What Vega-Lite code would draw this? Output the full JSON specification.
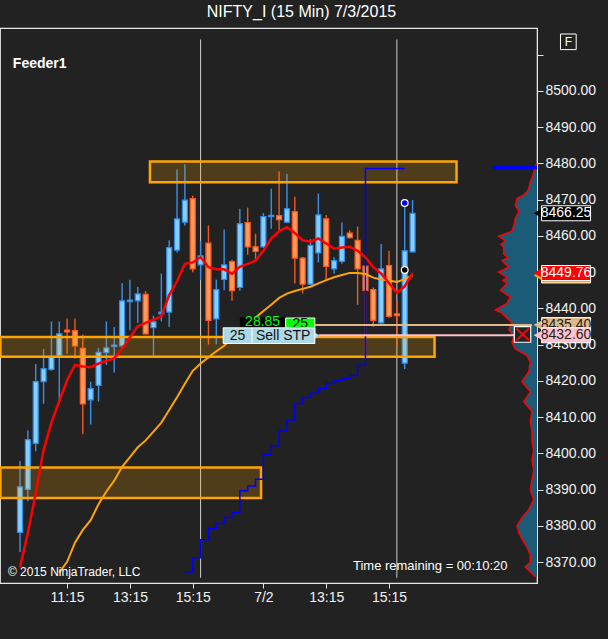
{
"$schema": "https://vega.github.io/schema/vega-lite/v6.json",
"width": 537, "height": 555,
"autosize": {"type": "none"},
"padding": {"left": 0, "top": 28, "right": 71, "bottom": 56},
"background": "#222222",
"config": {
  "font": "Liberation Sans",
  "view": {"stroke": "#e6e6e6", "strokeWidth": 1.2, "fill": "#222222"},
  "axis": {"grid": false, "title": null, "domainColor": "#e6e6e6", "tickColor": "#e6e6e6", "labelColor": "#f2f2f2", "labelFontSize": 14, "labelFont": "Liberation Sans", "labelOverlap": false, "labelFlush": false, "labelBound": false},
  "axisY": {"labelOverlap": false, "tickSize": 6, "labelPadding": 2, "tickCount": 40}
},
"title": {"text": "NIFTY_I (15 Min)  7/3/2015", "fontSize": 16, "fontWeight": "normal", "color": "#ffffff", "font": "Liberation Sans", "anchor": "middle", "frame": "group", "dx": 33, "offset": 8},
"datasets": {
  "bars": [
    {"i":0,"open":8378.2,"high":8397.9,"low":8372.8,"close":8390.8},
    {"i":1,"open":8390.1,"high":8406.4,"low":8386.8,"close":8403.8},
    {"i":2,"open":8402.8,"high":8424.7,"low":8400.6,"close":8419.8},
    {"i":3,"open":8419.8,"high":8428.8,"low":8413.7,"close":8423.4},
    {"i":4,"open":8423.2,"high":8436.4,"low":8422.8,"close":8426.5},
    {"i":5,"open":8427.0,"high":8436.4,"low":8414.3,"close":8433.0},
    {"i":6,"open":8434.0,"high":8437.2,"low":8427.4,"close":8433.5},
    {"i":7,"open":8433.9,"high":8437.2,"low":8426.1,"close":8429.7},
    {"i":8,"open":8429.0,"high":8432.8,"low":8405.3,"close":8413.7},
    {"i":9,"open":8414.8,"high":8419.8,"low":8408.0,"close":8417.9},
    {"i":10,"open":8418.8,"high":8429.1,"low":8414.3,"close":8427.9},
    {"i":11,"open":8427.8,"high":8436.4,"low":8424.4,"close":8429.1},
    {"i":12,"open":8429.5,"high":8434.9,"low":8422.3,"close":8429.9},
    {"i":13,"open":8429.7,"high":8447.0,"low":8429.0,"close":8442.1},
    {"i":14,"open":8441.9,"high":8447.9,"low":8434.0,"close":8442.3},
    {"i":15,"open":8442.1,"high":8445.9,"low":8436.0,"close":8444.0},
    {"i":16,"open":8443.9,"high":8444.8,"low":8432.8,"close":8433.0},
    {"i":17,"open":8434.7,"high":8438.0,"low":8426.9,"close":8436.3},
    {"i":18,"open":8438.5,"high":8449.6,"low":8436.4,"close":8439.0},
    {"i":19,"open":8439.0,"high":8458.8,"low":8434.9,"close":8456.8},
    {"i":20,"open":8456.1,"high":8478.3,"low":8455.4,"close":8464.7},
    {"i":21,"open":8463.8,"high":8479.8,"low":8462.8,"close":8469.9},
    {"i":22,"open":8470.3,"high":8471.1,"low":8450.0,"close":8450.9},
    {"i":23,"open":8452.0,"high":8458.6,"low":8447.8,"close":8454.5},
    {"i":24,"open":8458.0,"high":8462.9,"low":8430.0,"close":8436.7},
    {"i":25,"open":8437.1,"high":8448.0,"low":8430.1,"close":8445.2},
    {"i":26,"open":8448.0,"high":8461.8,"low":8445.0,"close":8452.0},
    {"i":27,"open":8452.9,"high":8453.4,"low":8442.1,"close":8444.9},
    {"i":28,"open":8445.8,"high":8467.5,"low":8444.9,"close":8463.4},
    {"i":29,"open":8463.7,"high":8467.8,"low":8454.8,"close":8457.0},
    {"i":30,"open":8457.0,"high":8460.6,"low":8453.4,"close":8455.7},
    {"i":31,"open":8457.0,"high":8466.3,"low":8456.7,"close":8465.3},
    {"i":32,"open":8465.3,"high":8473.0,"low":8462.0,"close":8465.7},
    {"i":33,"open":8465.6,"high":8477.8,"low":8461.3,"close":8464.5},
    {"i":34,"open":8463.8,"high":8477.1,"low":8463.6,"close":8467.5},
    {"i":35,"open":8466.7,"high":8470.8,"low":8446.9,"close":8453.9},
    {"i":36,"open":8453.9,"high":8454.2,"low":8444.1,"close":8446.7},
    {"i":37,"open":8446.7,"high":8459.1,"low":8446.4,"close":8457.4},
    {"i":38,"open":8455.3,"high":8471.7,"low":8452.7,"close":8465.8},
    {"i":39,"open":8464.7,"high":8465.8,"low":8447.6,"close":8451.6},
    {"i":40,"open":8450.9,"high":8454.1,"low":8449.6,"close":8453.2},
    {"i":41,"open":8453.0,"high":8463.8,"low":8452.3,"close":8459.9},
    {"i":42,"open":8460.8,"high":8461.6,"low":8459.3,"close":8459.5},
    {"i":43,"open":8458.8,"high":8462.6,"low":8441.0,"close":8450.9},
    {"i":44,"open":8451.7,"high":8451.9,"low":8427.0,"close":8445.0},
    {"i":45,"open":8445.2,"high":8445.8,"low":8434.9,"close":8436.7},
    {"i":46,"open":8436.0,"high":8457.8,"low":8435.6,"close":8450.9},
    {"i":47,"open":8451.8,"high":8455.9,"low":8437.4,"close":8437.8},
    {"i":48,"open":8438.5,"high":8441.9,"low":8429.7,"close":8438.0},
    {"i":49,"open":8424.9,"high":8469.1,"low":8423.3,"close":8455.9},
    {"i":50,"open":8455.6,"high":8469.9,"low":8455.4,"close":8466.25}
  ],
  "fast": [
    {"i":0,"v":8368.6},{"i":1,"v":8378.1},{"i":2,"v":8389.0},{"i":3,"v":8400.9},{"i":4,"v":8408.5},
    {"i":5,"v":8414.4},{"i":6,"v":8420.2},{"i":7,"v":8424.4},{"i":8,"v":8424.0},{"i":9,"v":8423.8},
    {"i":10,"v":8424.8},{"i":11,"v":8425.5},{"i":12,"v":8426.3},{"i":13,"v":8428.8},{"i":14,"v":8432.0},
    {"i":15,"v":8435.1},{"i":16,"v":8436.0},{"i":17,"v":8436.9},{"i":18,"v":8437.8},{"i":19,"v":8443.7},
    {"i":20,"v":8447.5},{"i":21,"v":8452.3},{"i":22,"v":8452.7},{"i":23,"v":8454.1},{"i":24,"v":8451.4},
    {"i":25,"v":8450.8},{"i":26,"v":8450.8},{"i":27,"v":8449.6},{"i":28,"v":8451.5},{"i":29,"v":8452.3},
    {"i":30,"v":8453.2},{"i":31,"v":8455.9},{"i":32,"v":8459.3},{"i":33,"v":8461.3},{"i":34,"v":8462.4},
    {"i":35,"v":8460.8},{"i":36,"v":8458.8},{"i":37,"v":8458.4},{"i":38,"v":8459.3},{"i":39,"v":8457.9},
    {"i":40,"v":8456.5},{"i":41,"v":8456.8},{"i":42,"v":8457.0},{"i":43,"v":8455.9},{"i":44,"v":8454.1},
    {"i":45,"v":8451.4},{"i":46,"v":8449.6},{"i":47,"v":8447.0},{"i":48,"v":8444.3},{"i":49,"v":8446.1},
    {"i":50,"v":8449.76}
  ],
  "slow": [
    {"i":5,"v":8367.2},{"i":6,"v":8370.1},{"i":7,"v":8375.4},{"i":8,"v":8378.9},{"i":9,"v":8381.6},
    {"i":10,"v":8386.0},{"i":11,"v":8389.5},{"i":12,"v":8392.5},{"i":13,"v":8396.3},{"i":14,"v":8399.0},
    {"i":15,"v":8401.7},{"i":16,"v":8403.6},{"i":17,"v":8406.0},{"i":18,"v":8408.5},{"i":19,"v":8412.0},
    {"i":20,"v":8415.5},{"i":21,"v":8419.2},{"i":22,"v":8422.8},{"i":23,"v":8424.8},{"i":24,"v":8426.5},
    {"i":25,"v":8428.2},{"i":26,"v":8429.7},{"i":27,"v":8431.8},{"i":28,"v":8433.9},{"i":29,"v":8435.6},
    {"i":30,"v":8437.5},{"i":31,"v":8439.3},{"i":32,"v":8441.0},{"i":33,"v":8442.9},{"i":34,"v":8444.1},
    {"i":35,"v":8444.8},{"i":36,"v":8445.4},{"i":37,"v":8446.0},{"i":38,"v":8446.9},{"i":39,"v":8447.8},
    {"i":40,"v":8448.6},{"i":41,"v":8449.2},{"i":42,"v":8449.8},{"i":43,"v":8449.8},{"i":44,"v":8449.5},
    {"i":45,"v":8448.5},{"i":46,"v":8448.0},{"i":47,"v":8447.7},{"i":48,"v":8447.3},{"i":49,"v":8448.1},
    {"i":50,"v":8449.1}
  ],
  "stop": [
    {"i":21,"v":8367.3},{"i":22,"v":8371.2},{"i":23,"v":8376.2},{"i":24,"v":8379.3},{"i":25,"v":8380.7},
    {"i":26,"v":8382.3},{"i":27,"v":8383.8},{"i":28,"v":8389.7},{"i":29,"v":8391.0},{"i":30,"v":8392.9},
    {"i":31,"v":8399.7},{"i":32,"v":8402.1},{"i":33,"v":8406.2},{"i":34,"v":8409.2},{"i":35,"v":8413.8},
    {"i":36,"v":8415.4},{"i":37,"v":8416.6},{"i":38,"v":8417.9},{"i":39,"v":8419.3},{"i":40,"v":8420.1},
    {"i":41,"v":8420.7},{"i":42,"v":8421.5},{"i":43,"v":8424.3},{"i":44,"v":8478.6},{"i":45,"v":8478.6},
    {"i":46,"v":8478.6},{"i":47,"v":8478.6},{"i":48,"v":8478.6},{"i":49,"v":8478.6}
  ],
  "zones": [
    {"x1":16.55,"x2":55.6,"top":8480.5,"bottom":8474.8},
    {"x1":-2.5,"x2":52.8,"top":8432.1,"bottom":8426.7},
    {"x1":-2.5,"x2":30.7,"top":8396.1,"bottom":8387.7}
  ],
  "sessions": [{"i":23},{"i":48}],
  "profile": [
    {"p":8480.0,"v":0},{"p":8479.0,"v":2},{"p":8476.7,"v":4},{"p":8474.9,"v":6.7},{"p":8473.3,"v":8},
    {"p":8472.1,"v":10},{"p":8471.2,"v":14},{"p":8470.3,"v":20},{"p":8468.5,"v":21.7},{"p":8466.7,"v":18},
    {"p":8464.9,"v":21.7},{"p":8463.1,"v":23},{"p":8461.3,"v":25},{"p":8459.9,"v":38.3},{"p":8458.6,"v":31.7},
    {"p":8457.7,"v":36},{"p":8456.8,"v":33.3},{"p":8455.0,"v":33.3},{"p":8454.1,"v":29},{"p":8453.2,"v":35},
    {"p":8451.4,"v":28.3},{"p":8450.0,"v":38.3},{"p":8448.6,"v":30},{"p":8447.7,"v":34},{"p":8446.9,"v":30},
    {"p":8445.0,"v":36.7},{"p":8443.2,"v":26.7},{"p":8441.4,"v":30},{"p":8439.6,"v":41.7},{"p":8438.7,"v":35},
    {"p":8437.8,"v":31.7},{"p":8436.0,"v":25},{"p":8434.2,"v":28.3},{"p":8432.4,"v":23},{"p":8430.6,"v":25},
    {"p":8428.8,"v":21.7},{"p":8427.0,"v":10},{"p":8425.2,"v":6.7},{"p":8422.5,"v":8.3},{"p":8419.8,"v":15},
    {"p":8417.0,"v":6.7},{"p":8414.3,"v":13.3},{"p":8411.6,"v":5},{"p":8408.9,"v":6.7},{"p":8406.2,"v":5},
    {"p":8403.5,"v":5},{"p":8400.8,"v":3.3},{"p":8398.1,"v":5},{"p":8395.4,"v":3.3},{"p":8392.7,"v":5},
    {"p":8390.0,"v":6.7},{"p":8387.2,"v":3.3},{"p":8384.5,"v":8.3},{"p":8382.3,"v":15},{"p":8380.0,"v":20},
    {"p":8378.2,"v":18.3},{"p":8376.4,"v":15},{"p":8374.1,"v":10},{"p":8371.9,"v":6.7},{"p":8370.0,"v":6.7},
    {"p":8368.7,"v":11.7},{"p":8366.9,"v":5},{"p":8366.0,"v":2}
  ],
  "tagsA": [
    {"name":"Last","price":8466.25,"t":"8466.25"},
    {"name":"EMA slow","price":8449.1,"t":""},
    {"name":"EMA fast","price":8449.76,"t":"8449.76"},
    {"name":"Target","price":8435.40,"t":"8435.40"}
  ],
  "tagsB": [
    {"name":"Stop","price":8432.60,"t":"8432.60"}
  ]
},
"resolve": {"scale": {"x": "independent"}},
"layer": [
  {
    "layer": [
      {"data": {"name": "profile"},
       "mark": {"type": "area", "orient": "horizontal", "color": "#1c5b77"},
       "encoding": {
         "x": {"field": "v", "type": "quantitative", "scale": {"domain": [0, 537], "reverse": true, "nice": false, "zero": true}, "axis": null},
         "y": {"field": "p", "type": "quantitative",
               "scale": {"domain": [8365.64, 8515.98], "nice": false, "zero": false},
               "axis": {"orient": "right", "values": [8370, 8380, 8390, 8400, 8410, 8420, 8430, 8440, 8450, 8460, 8470, 8480, 8490, 8500, 8510], "tickCount": 40, "labelExpr": "datum.value > 8505 ? '' : format(datum.value, '.2f')", "tickSize": 6, "labelPadding": 2, "labelFlush": false, "labelOverlap": false, "labelBaseline": "middle"}}}},
      {"data": {"name": "profile"},
       "mark": {"type": "line", "color": "#ff0000", "strokeWidth": 1.5},
       "encoding": {
         "x": {"field": "v", "type": "quantitative", "axis": null},
         "y": {"field": "p", "type": "quantitative", "axis": {"orient": "right"}},
         "order": {"field": "p", "type": "quantitative"}}},
      {"data": {"values": [{"name": "POC"}]},
       "mark": {"type": "rule", "color": "#0000ff", "strokeWidth": 3.5},
       "encoding": {"x": {"datum": 44, "axis": null}, "x2": {"datum": 0}, "y": {"datum": 8478.9, "axis": {"orient": "right"}}}}
    ]
  },
  {
    "layer": [
      {"data": {"name": "sessions"},
       "mark": {"type": "rule", "color": "#cfcfcf", "strokeWidth": 1},
       "encoding": {"x": {"field": "i", "type": "quantitative"}, "y": {"datum": 8365.7, "axis": {"orient": "right"}}, "y2": {"datum": 8514.2}}},
      {"data": {"name": "bars"},
       "mark": {"type": "rule", "strokeWidth": 1.4},
       "encoding": {
         "x": {"field": "i", "type": "quantitative",
               "scale": {"domain": [-1.9125, 65.2125], "nice": false, "zero": false},
               "axis": {"orient": "bottom", "values": [6, 14, 22, 31, 39, 47], "tickCount": 40, "labelExpr": "datum.value == 6 ? '11:15' : datum.value == 14 ? '13:15' : datum.value == 22 ? '15:15' : datum.value == 31 ? '7/2' : datum.value == 39 ? '13:15' : '15:15'", "tickSize": 5, "labelPadding": 2, "labelFlush": false, "labelOverlap": false}},
         "y": {"field": "low", "type": "quantitative",
               "scale": {"domain": [8365.64, 8515.98], "nice": false, "zero": false},
               "axis": {"orient": "right", "values": [8370, 8380, 8390, 8400, 8410, 8420, 8430, 8440, 8450, 8460, 8470, 8480, 8490, 8500, 8510], "tickCount": 40, "labelExpr": "datum.value > 8505 ? '' : format(datum.value, '.2f')", "tickSize": 6, "labelPadding": 2, "labelFlush": false, "labelOverlap": false, "labelBaseline": "middle"}},
         "y2": {"field": "high"},
         "color": {"condition": {"test": "datum.close >= datum.open", "value": "#3d8fe8"}, "value": "#ee5a22"}}},
      {"data": {"name": "bars"},
       "mark": {"type": "bar", "size": 5, "strokeWidth": 1.2},
       "encoding": {
         "x": {"field": "i", "type": "quantitative"},
         "y": {"field": "open", "type": "quantitative", "axis": {"orient": "right"}},
         "y2": {"field": "close"},
         "fill": {"condition": {"test": "datum.close >= datum.open", "value": "#87cefa"}, "value": "#f99a5f"},
         "stroke": {"condition": {"test": "datum.close >= datum.open", "value": "#2e8ef0"}, "value": "#ff5a1a"}}},
      {"data": {"name": "zones"},
       "mark": {"type": "rect", "fill": "#ffa500", "fillOpacity": 0.2, "stroke": "#ffa500", "strokeWidth": 2.5},
       "encoding": {"x": {"field": "x1", "type": "quantitative"}, "x2": {"field": "x2"}, "y": {"field": "top", "type": "quantitative", "axis": {"orient": "right"}}, "y2": {"field": "bottom"}}},
      {"data": {"name": "stop"},
       "mark": {"type": "line", "interpolate": "step-after", "color": "#0000ff", "strokeWidth": 1.5},
       "encoding": {"x": {"field": "i", "type": "quantitative"}, "y": {"field": "v", "type": "quantitative", "axis": {"orient": "right"}}}},
      {"data": {"name": "slow"},
       "mark": {"type": "line", "color": "#ffa500", "strokeWidth": 2},
       "encoding": {"x": {"field": "i", "type": "quantitative"}, "y": {"field": "v", "type": "quantitative", "axis": {"orient": "right"}}}},
      {"data": {"name": "fast"},
       "mark": {"type": "line", "color": "#ff0000", "strokeWidth": 2.5},
       "encoding": {"x": {"field": "i", "type": "quantitative"}, "y": {"field": "v", "type": "quantitative", "axis": {"orient": "right"}}}},
      {"data": {"values": [{"i": 49, "price": 8469.1, "kind": "high"}, {"i": 49, "price": 8450.6, "kind": "mid"}]},
       "mark": {"type": "point", "filled": true, "stroke": "#ffffff", "strokeWidth": 1.2, "size": 45, "opacity": 1},
       "encoding": {"x": {"field": "i", "type": "quantitative"}, "y": {"field": "price", "type": "quantitative", "axis": {"orient": "right"}},
         "fill": {"condition": {"test": "datum.kind == 'high'", "value": "#0000ff"}, "value": "#000000"}}},
      {"data": {"values": [{"name": "Target"}]},
       "mark": {"type": "rule", "color": "#deb887", "strokeWidth": 2},
       "encoding": {"x": {"datum": 37.6}, "x2": {"datum": 65.21}, "y": {"datum": 8435.4, "axis": {"orient": "right"}}}},
      {"data": {"values": [{"name": "Stop"}]},
       "mark": {"type": "rule", "color": "#ffc0cb", "strokeWidth": 2},
       "encoding": {"x": {"datum": 38.1}, "x2": {"datum": 62.96}, "y": {"datum": 8432.6, "axis": {"orient": "right"}}}},
      {"data": {"values": [{"t": "28.85"}]},
       "mark": {"type": "rect", "fill": "#000000"},
       "encoding": {"x": {"datum": 28.0}, "x2": {"datum": 33.84}, "y": {"datum": 8434.65, "axis": {"orient": "right"}}, "y2": {"datum": 8437.52}}},
      {"data": {"values": [{"t": "28.85"}]},
       "mark": {"type": "text", "color": "#00ff00", "fontSize": 14, "baseline": "middle", "align": "center"},
       "encoding": {"x": {"datum": 30.9}, "y": {"datum": 8436.2, "axis": {"orient": "right"}}, "text": {"field": "t"}}},
      {"data": {"values": [{"t": "25"}]},
       "mark": {"type": "rect", "fill": "#00ff00", "stroke": "#ffffff", "strokeWidth": 1},
       "encoding": {"x": {"datum": 33.84}, "x2": {"datum": 37.55}, "y": {"datum": 8433.3, "axis": {"orient": "right"}}, "y2": {"datum": 8437.36}}},
      {"data": {"values": [{"t": "25"}]},
       "mark": {"type": "text", "color": "#000000", "fontSize": 14, "baseline": "middle", "align": "center"},
       "encoding": {"x": {"datum": 35.7}, "y": {"datum": 8435.8, "axis": {"orient": "right"}}, "text": {"field": "t"}}},
      {"data": {"values": [{"t": "Sell STP"}]},
       "mark": {"type": "point", "shape": "triangle-right", "filled": true, "color": "#add8e6", "size": 70, "opacity": 1},
       "encoding": {"x": {"datum": 37.75}, "y": {"datum": 8432.5, "axis": {"orient": "right"}}}},
      {"data": {"values": [{"t": "Sell STP"}]},
       "mark": {"type": "rect", "fill": "#add8e6", "stroke": "#ffffff", "strokeWidth": 1},
       "encoding": {"x": {"datum": 25.88}, "x2": {"datum": 37.55}, "y": {"datum": 8430.32, "axis": {"orient": "right"}}, "y2": {"datum": 8434.65}}},
      {"data": {"values": [{"t": "Sell STP"}]},
       "mark": {"type": "rule", "color": "#ffffff", "strokeWidth": 1},
       "encoding": {"x": {"datum": 29.55}, "y": {"datum": 8430.32, "axis": {"orient": "right"}}, "y2": {"datum": 8434.65}}},
      {"data": {"values": [{"t": "25"}]},
       "mark": {"type": "text", "color": "#111111", "fontSize": 14, "baseline": "middle", "align": "center"},
       "encoding": {"x": {"datum": 27.7}, "y": {"datum": 8432.45, "axis": {"orient": "right"}}, "text": {"field": "t"}}},
      {"data": {"values": [{"t": "Sell STP"}]},
       "mark": {"type": "text", "color": "#111111", "fontSize": 14, "baseline": "middle", "align": "left"},
       "encoding": {"x": {"datum": 30.05}, "y": {"datum": 8432.45, "axis": {"orient": "right"}}, "text": {"field": "t"}}},
      {"data": {"values": [{"t": "X"}]},
       "mark": {"type": "rect", "fill": "#222222", "stroke": "#ffffff", "strokeWidth": 1.2},
       "encoding": {"x": {"datum": 62.96}, "x2": {"datum": 65.05}, "y": {"datum": 8430.67, "axis": {"orient": "right"}}, "y2": {"datum": 8435.0}}},
      {"data": {"values": [{"t": "X"}]},
       "mark": {"type": "rule", "color": "#ff0000", "strokeWidth": 2.2},
       "encoding": {"x": {"datum": 63.21}, "x2": {"datum": 64.84}, "y": {"datum": 8434.46, "axis": {"orient": "right"}}, "y2": {"datum": 8431.21}}},
      {"data": {"values": [{"t": "X"}]},
       "mark": {"type": "rule", "color": "#ff0000", "strokeWidth": 2.2},
       "encoding": {"x": {"datum": 63.21}, "x2": {"datum": 64.84}, "y": {"datum": 8431.21, "axis": {"orient": "right"}}, "y2": {"datum": 8434.46}}},
      {"data": {"name": "tagsA"},
       "mark": {"type": "point", "shape": "triangle-left", "filled": true, "size": 90, "opacity": 1},
       "encoding": {"x": {"datum": 65.95}, "y": {"field": "price", "type": "quantitative", "axis": {"orient": "right"}},
         "fill": {"condition": [{"test": "datum.name == 'Last'", "value": "#000000"}, {"test": "datum.name == 'EMA slow'", "value": "#ffa500"}, {"test": "datum.name == 'EMA fast'", "value": "#ff0000"}], "value": "#deb887"}}},
      {"data": {"name": "tagsA"},
       "mark": {"type": "bar", "orient": "horizontal", "size": 15, "stroke": "#ffffff", "strokeWidth": 1},
       "encoding": {"x": {"datum": 66.43}, "x2": {"datum": 72.67}, "y": {"field": "price", "type": "quantitative", "axis": {"orient": "right"}},
         "fill": {"condition": [{"test": "datum.name == 'Last'", "value": "#000000"}, {"test": "datum.name == 'EMA slow'", "value": "#ffa500"}, {"test": "datum.name == 'EMA fast'", "value": "#ff0000"}], "value": "#deb887"}}},
      {"data": {"name": "tagsA"},
       "mark": {"type": "text", "fontSize": 14, "baseline": "middle", "align": "center"},
       "encoding": {"x": {"datum": 69.55}, "y": {"field": "price", "type": "quantitative", "axis": {"orient": "right"}}, "text": {"field": "t"},
         "color": {"condition": {"test": "datum.name == 'Last' || datum.name == 'EMA fast'", "value": "#ffffff"}, "value": "#222222"}}},
      {"data": {"name": "tagsB"},
       "mark": {"type": "point", "shape": "triangle-left", "filled": true, "size": 90, "opacity": 1, "color": "#ffc0cb"},
       "encoding": {"x": {"datum": 65.95}, "y": {"field": "price", "type": "quantitative", "axis": {"orient": "right"}}}},
      {"data": {"name": "tagsB"},
       "mark": {"type": "bar", "orient": "horizontal", "size": 15, "stroke": "#ffffff", "strokeWidth": 1, "fill": "#ffc0cb"},
       "encoding": {"x": {"datum": 66.43}, "x2": {"datum": 72.67}, "y": {"field": "price", "type": "quantitative", "axis": {"orient": "right"}}}},
      {"data": {"name": "tagsB"},
       "mark": {"type": "text", "fontSize": 14, "baseline": "middle", "align": "center", "color": "#222222"},
       "encoding": {"x": {"datum": 69.55}, "y": {"field": "price", "type": "quantitative", "axis": {"orient": "right"}}, "text": {"field": "t"}}},
      {"data": {"values": [{"t": "F"}]},
       "mark": {"type": "rect", "fillOpacity": 0, "stroke": "#ffffff", "strokeWidth": 1},
       "encoding": {"x": {"datum": 68.84}, "x2": {"datum": 70.84}, "y": {"datum": 8511.4, "axis": {"orient": "right"}}, "y2": {"datum": 8515.7}}},
      {"data": {"values": [{"t": "F"}]},
       "mark": {"type": "text", "color": "#ffffff", "fontSize": 12, "baseline": "middle", "align": "center"},
       "encoding": {"x": {"datum": 69.84}, "y": {"datum": 8513.55, "axis": {"orient": "right"}}, "text": {"field": "t"}}},
      {"data": {"values": [{"t": "Feeder1"}]},
       "mark": {"type": "text", "color": "#ffffff", "fontSize": 14, "fontWeight": "bold", "baseline": "middle", "align": "left"},
       "encoding": {"x": {"datum": -0.91}, "y": {"datum": 8507.3, "axis": {"orient": "right"}}, "text": {"field": "t"}}},
      {"data": {"values": [{"t": "© 2015 NinjaTrader, LLC"}]},
       "mark": {"type": "text", "color": "#ffffff", "fontSize": 12, "baseline": "middle", "align": "left"},
       "encoding": {"x": {"datum": -1.54}, "y": {"datum": 8367.3, "axis": {"orient": "right"}}, "text": {"field": "t"}}},
      {"data": {"values": [{"t": "Time remaining = 00:10:20"}]},
       "mark": {"type": "text", "color": "#ffffff", "fontSize": 13, "baseline": "middle", "align": "right"},
       "encoding": {"x": {"datum": 62.09}, "y": {"datum": 8368.9, "axis": {"orient": "right"}}, "text": {"field": "t"}}}
    ]
  }
]
}
